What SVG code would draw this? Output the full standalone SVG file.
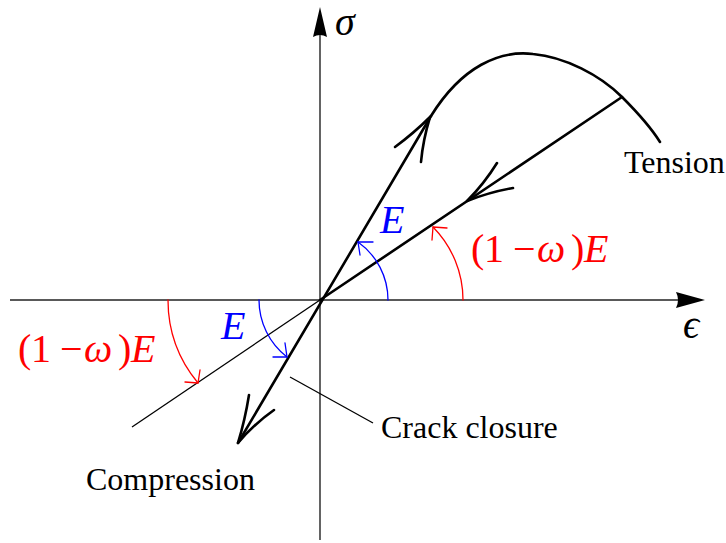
<svg xmlns="http://www.w3.org/2000/svg" width="726" height="543" viewBox="0 0 726 543">
<style>
.axis{stroke:#222;stroke-width:1.4;fill:none}
.thick{stroke:#000;stroke-width:2.6;fill:none;stroke-linecap:round;stroke-linejoin:round}
.thin{stroke:#000;stroke-width:1.3;fill:none}
.red{stroke:#ff0000;stroke-width:1.3;fill:none;stroke-linecap:round;stroke-linejoin:round}
.blue{stroke:#0000ff;stroke-width:1.3;fill:none;stroke-linecap:round;stroke-linejoin:round}
.lbl{font-family:"Liberation Serif","Times New Roman",serif;font-size:32px;fill:#000}
.m{font-family:"Liberation Serif","DejaVu Serif",serif;font-size:40px}
.it{font-style:italic}
</style>
<rect width="726" height="543" fill="#fff"/>
<g id="axes">
<path class="axis" d="M10 300 H682"/>
<path d="M705 300 L676 292 Q680 300 676 308 Z" fill="#000"/>
<path class="axis" d="M320 540 V32"/>
<path d="M320 7 L313 37 Q320 33 327 37 Z" fill="#000"/>
<text class="m it" x="335" y="35" font-size="33">σ</text>
<text class="m it" x="683" y="338" font-size="29">ϵ</text>
</g>
<g id="connectors">
<path class="thick" d="M238 443 L431 116"/>
<path class="thick" d="M431 116 C462 66 500 50 533 54 C565 57 600 75 622 97 C636 111 650 126 660 142"/>
<path class="thick" d="M320 300 L622 97"/>
<path class="thin" d="M320 300 L132 427"/>
<path class="thin" d="M290 377 L373 423"/>
<path class="thick" d="M395 147 Q414 133 430 117 Q423 140 421 162"/>
<path class="thick" d="M497 163 Q484 184 467 201 Q490 192 513 188"/>
<path class="thick" d="M249 395 Q245 420 238 443 Q254 424 274 410"/>
<path class="red" d="M463 300 A104 104 0 0 0 433 227"/>
<path class="red" d="M432 240 L433 227 L447 228"/>
<path class="blue" d="M388 300 A71 71 0 0 0 358 242"/>
<path class="blue" d="M360 255 L358 242 L373 242"/>
<path class="red" d="M168 300 A130 130 0 0 0 198 383"/>
<path class="red" d="M185 382 L198 383 L200 370"/>
<path class="blue" d="M259 300 A72 72 0 0 0 287 357"/>
<path class="blue" d="M273 357 L287 357 L285 343"/>
</g>
<g id="tension"><text class="lbl" x="624" y="173">Tension</text></g>
<g id="compression"><text class="lbl" x="86" y="490">Compression</text></g>
<g id="crack"><text class="lbl" x="381" y="438">Crack closure</text></g>
<g id="labelE1" fill="#0000ff"><text class="m it" x="380" y="233">E</text></g>
<g id="labelE2" fill="#0000ff"><text class="m it" x="221" y="339">E</text></g>
<g id="labelR1" fill="#ff0000">
<text class="m" y="262"><tspan x="471">(</tspan><tspan x="484">1</tspan><tspan x="513">−</tspan><tspan x="537" font-style="italic">ω</tspan><tspan x="571">)</tspan><tspan x="584" font-style="italic">E</tspan></text>
</g>
<g id="labelR2" fill="#ff0000">
<text class="m" y="362"><tspan x="18">(</tspan><tspan x="31">1</tspan><tspan x="60">−</tspan><tspan x="84" font-style="italic">ω</tspan><tspan x="118">)</tspan><tspan x="131" font-style="italic">E</tspan></text>
</g>
</svg>
